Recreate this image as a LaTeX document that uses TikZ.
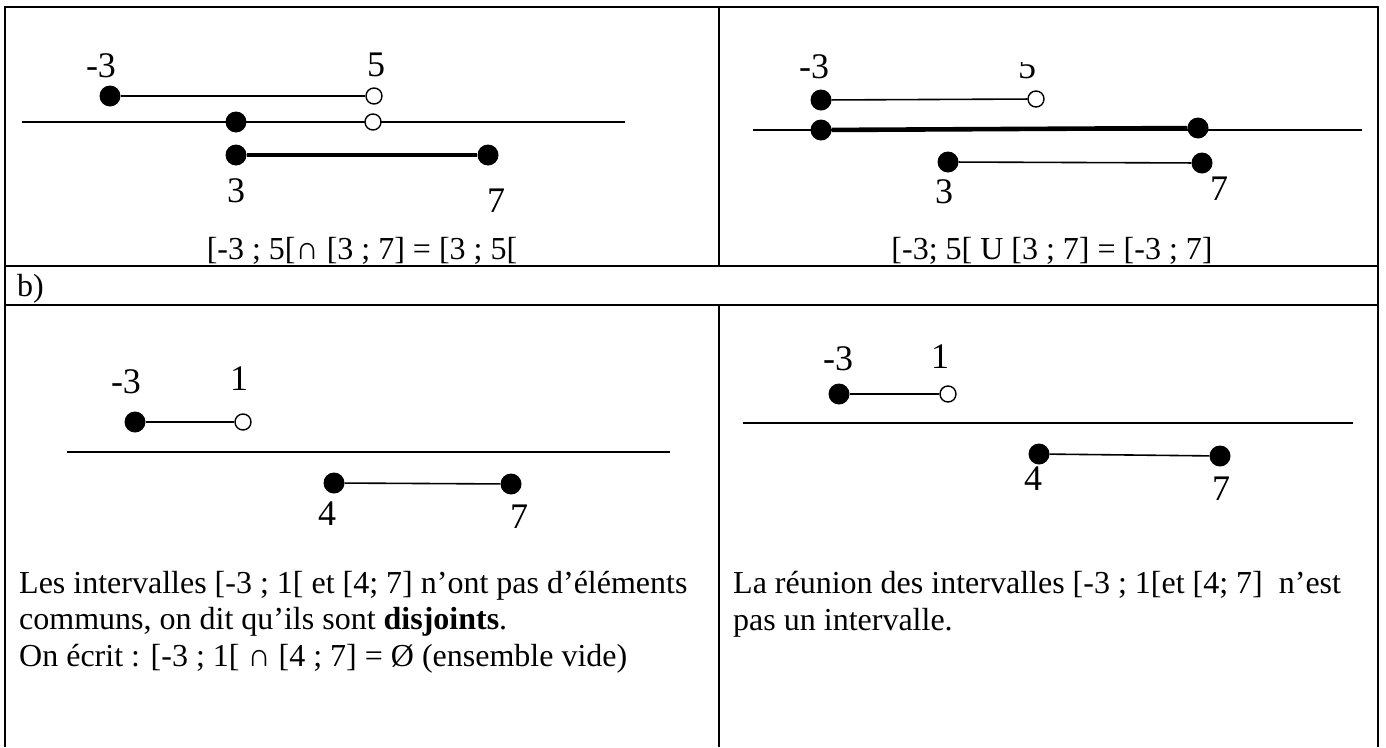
\documentclass[tikz,border=0pt]{standalone}
\usepackage{fontspec}
\setmainfont{Liberation Serif}
\tikzset{
  rule/.style={line width=2.6pt},
  axis/.style={line width=1.5pt},
  seg/.style={line width=1.6pt},
  segthick/.style={line width=4.6pt},
  dotfull/.style={circle,fill=black,inner sep=0pt,minimum size=21pt},
  dotopen/.style={circle,draw=black,fill=white,line width=1.4pt,inner sep=0pt,minimum size=16pt},
  num/.style={font=\fontsize{36}{40}\selectfont,inner sep=0pt,anchor=base},
  txt/.style={font=\fontsize{32}{36.5}\selectfont,inner sep=0pt,anchor=base west,align=left},
  eqn/.style={font=\fontsize{32}{36.5}\selectfont,inner sep=0pt,anchor=base}
}
\begin{document}
\begin{tikzpicture}[x=1pt,y=-1pt]
\useasboundingbox (0,0) rectangle (1386,747);
\draw[rule] (5,747) -- (5,7) -- (1378,7) -- (1378,747);
\draw[rule] (5,266) -- (1378,266);
\draw[rule] (5,305) -- (1378,305);
\draw[rule] (719,7) -- (719,266);
\draw[rule] (719,305) -- (719,747);
\coordinate (axAw) at (22,122);
\coordinate (axAe) at (625,122);
\draw[axis] (axAw) -- (axAe);
\node[dotfull] (interA) at (110,96) {};
\node[dotopen] (interB) at (374,96) {};
\draw[seg] (interA) -- (interB);
\node[dotfull] (interC) at (236,122) {};
\node[dotopen] (interD) at (373,122) {};
\draw[seg] (interC) -- (interD);
\node[dotfull] (interE) at (236,155) {};
\node[dotfull] (interF) at (488,155) {};
\draw[segthick] (interE) -- (interF);
\node[num] (interLa) at (101,77) {-3};
\node[num] (interLb) at (376,76) {5};
\node[num] (interLc) at (236,202) {3};
\node[num] (interLd) at (496,212) {7};
\node[eqn] (interEq) at (362,259) {[-3 ; 5[∩ [3 ; 7] = [3 ; 5[};
\coordinate (axBw) at (753,130);
\coordinate (axBe) at (1362,130);
\draw[axis] (axBw) -- (axBe);
\node[dotfull] (unionA) at (821,100) {};
\node[dotopen] (unionB) at (1036,99) {};
\draw[seg] (unionA) -- (unionB);
\node[dotfull] (unionC) at (821,130) {};
\node[dotfull] (unionD) at (1198,128) {};
\draw[segthick] (unionC) -- (unionD);
\node[dotfull] (unionE) at (948,162) {};
\node[dotfull] (unionF) at (1202,163) {};
\draw[seg] (unionE) -- (unionF);
\node[num] (unionLa) at (814,78) {-3};
\begin{scope}
\clip (990,62) rectangle (1060,95);
\node[num] (unionLb) at (1027,78) {5};
\end{scope}
\node[num] (unionLc) at (944,203) {3};
\node[num] (unionLd) at (1219,200) {7};
\node[eqn] (unionEq) at (1052,259) {[-3; 5[ U [3 ; 7] = [-3 ; 7]};
\node[txt] (partB) at (17,296) {b)};
\coordinate (axCw) at (67,452);
\coordinate (axCe) at (670,452);
\draw[axis] (axCw) -- (axCe);
\node[dotfull] (disjA) at (135,422) {};
\node[dotopen] (disjB) at (243,422) {};
\draw[seg] (disjA) -- (disjB);
\node[dotfull] (disjC) at (334,483) {};
\node[dotfull] (disjD) at (511,484) {};
\draw[seg] (disjC) -- (disjD);
\node[num] (disjLa) at (126,393) {-3};
\node[num] (disjLb) at (239,390) {1};
\node[num] (disjLc) at (327,525) {4};
\node[num] (disjLd) at (519,528) {7};
\node[txt] (disjTxt) at (19,666) {Les intervalles [-3 ; 1[ et [4; 7] n’ont pas d’éléments\\communs, on dit qu’ils sont \textbf{disjoints}.\\On écrit : [-3 ; 1[ ∩ [4 ; 7] = Ø (ensemble vide)};
\coordinate (axDw) at (743,423);
\coordinate (axDe) at (1353,423);
\draw[axis] (axDw) -- (axDe);
\node[dotfull] (reunA) at (839,394) {};
\node[dotopen] (reunB) at (948,394) {};
\draw[seg] (reunA) -- (reunB);
\node[dotfull] (reunC) at (1039,454) {};
\node[dotfull] (reunD) at (1220,456) {};
\draw[seg] (reunC) -- (reunD);
\node[num] (reunLa) at (838,370) {-3};
\node[num] (reunLb) at (940,368) {1};
\node[num] (reunLc) at (1033,490) {4};
\node[num] (reunLd) at (1221,500) {7};
\node[txt] (reunTxt) at (733,630) {La réunion des intervalles [-3 ; 1[et [4; 7] \ n’est\\pas un intervalle.};
\end{tikzpicture}
\end{document}
